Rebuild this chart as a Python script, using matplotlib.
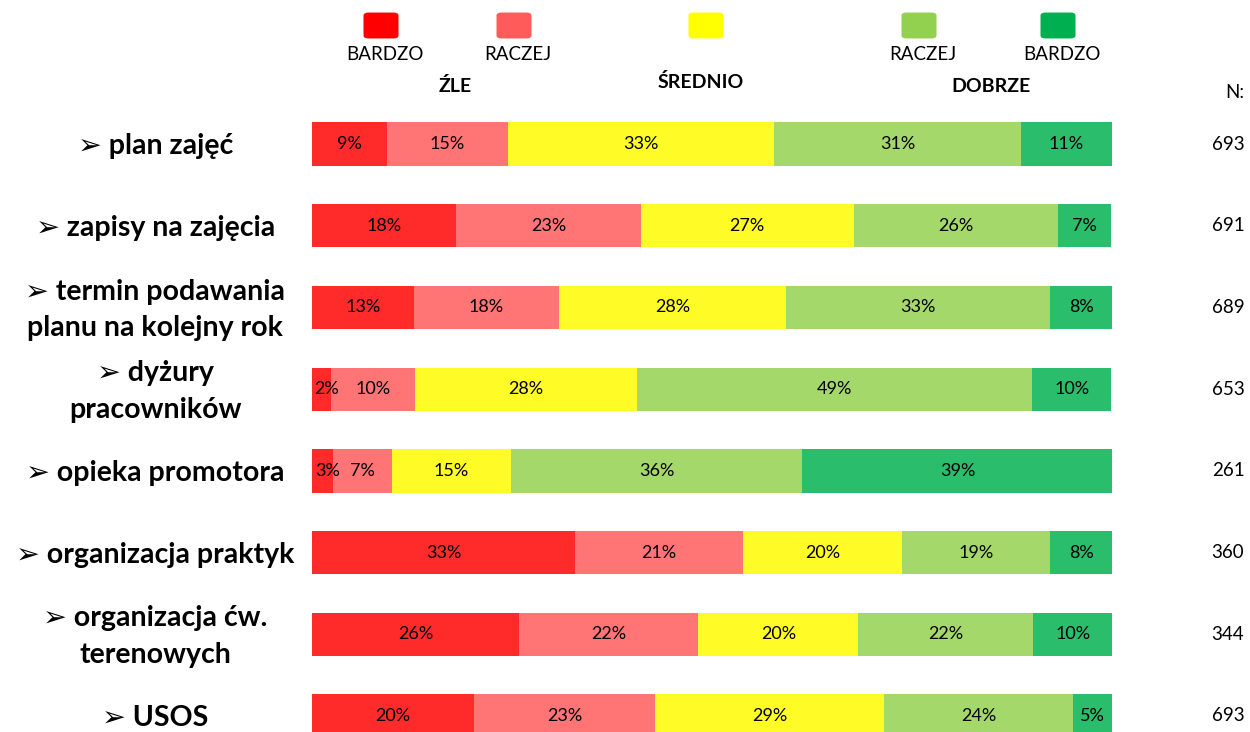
import matplotlib.pyplot as plt
from matplotlib.patches import FancyBboxPatch

plt.rcParams['font.family'] = ['Lato', 'DejaVu Sans']

kategorie = ["➢ plan zajęć", "➢ zapisy na zajęcia", "➢ termin podawania\nplanu na kolejny rok",
             "➢ dyżury\npracowników", "➢ opieka promotora", "➢ organizacja praktyk",
             "➢ organizacja ćw.\nterenowych", "➢ USOS"]
bardzo_zle = [9.4, 18.0, 12.7, 2.4, 2.6, 32.9, 25.9, 20.3]
raczej_zle = [15.1, 23.1, 18.2, 10.5, 7.4, 21.0, 22.4, 22.6]
srednio = [33.3, 26.6, 28.3, 27.7, 14.9, 19.8, 20.0, 28.6]
raczej_dobrze = [30.8, 25.6, 33.1, 49.4, 36.4, 18.6, 21.8, 23.6]
bardzo_dobrze = [11.4, 6.6, 7.8, 9.9, 38.8, 7.9, 10.0, 5.0]
n_odp = [693, 691, 689, 653, 261, 360, 344, 693]

serie = [bardzo_zle, raczej_zle, srednio, raczej_dobrze, bardzo_dobrze]
kolory_bar = ['#FF2A2A', '#FF7575', '#FFFB26', '#A5D86A', '#2ABD6B']
kolory_leg = ['#FF0000', '#FF5B5B', '#FFFF00', '#92D050', '#00B050']
leg_etyk = ['BARDZO', 'RACZEJ', '', 'RACZEJ', 'BARDZO']

fig = plt.figure(figsize=(12.5, 7.32), dpi=100)
ax = fig.add_axes([312 / 1250, 0, 800 / 1250, 1])

y = list(range(len(kategorie)))
lewo = [0] * len(kategorie)
for s, kol in zip(serie, kolory_bar):
    ax.barh(y, s, left=lewo, height=0.53, color=kol, linewidth=0)
    for i, v in enumerate(s):
        xt = lewo[i] + v / 2
        if v < 3:
            xt += 0.6  # male wartosci lekko w prawo, jak w oryginale
        ax.text(xt, i, "%d%%" % round(v), ha='center', va='center', fontsize=13)
    lewo = [a + b for a, b in zip(lewo, s)]

ax.set_xlim(0, 100)
ax.set_ylim(7.196, -1.763)
ax.axis('off')

for i, k in enumerate(kategorie):
    ax.text(-19.6, i + 0.03, k, ha='center', va='center', fontsize=20.5, fontweight='bold',
            linespacing=1.5)
    ax.text(114.5, i, str(n_odp[i]), ha='center', va='center', fontsize=13.5)

# legenda na gorze
W, H = 1250, 732
srodki = [381, 514, 706, 919, 1058]
for xc, kol, et in zip(srodki, kolory_leg, leg_etyk):
    fig.add_artist(FancyBboxPatch(((xc - 15) / W, 1 - 37 / H), 30 / W, 23 / H,
                                  boxstyle="round,pad=0.002,rounding_size=0.004",
                                  transform=fig.transFigure, color=kol, linewidth=0))
    if et:
        fig.text(xc / W + 0.003, 1 - 55 / H, et, ha='center', va='center', fontsize=13.5)
fig.text(455 / W, 1 - 86 / H, 'ŹLE', ha='center', va='center', fontsize=14, fontweight='bold')
fig.text(701 / W, 1 - 82 / H, 'ŚREDNIO', ha='center', va='center', fontsize=14, fontweight='bold')
fig.text(991 / W, 1 - 86 / H, 'DOBRZE', ha='center', va='center', fontsize=14, fontweight='bold')
fig.text(1235 / W, 1 - 92 / H, 'N:', ha='center', va='center', fontsize=13.5)

fig.savefig('out.png', dpi=100)
